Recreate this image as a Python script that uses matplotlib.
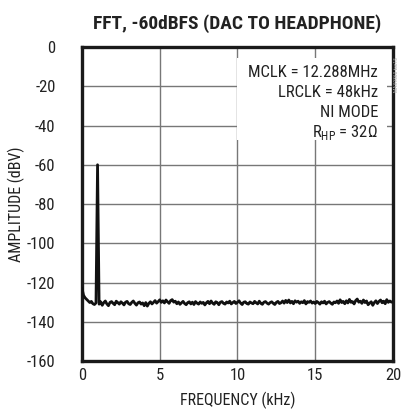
import numpy as np
import matplotlib.pyplot as plt
from matplotlib.patches import Rectangle

# FFT of a -60dBFS 1kHz tone, DAC to headphone output
freq_step_khz = 0.1
noise_dbv = [
    -123.0, -126.5, -127.8, -128.6, -129.4, -130.2, -129.6, -130.8, -131.2, -130.4,
    -60.0,
    -131.0, -129.8, -131.6, -130.2, -129.4, -130.9, -131.8, -130.1, -129.7,
    -130.6, -131.3, -129.5, -130.2, -131.0, -129.8, -130.5, -131.4, -130.0, -129.6,
    -130.8, -131.2, -130.1, -129.4, -130.6, -131.5, -130.3, -129.9, -131.0, -130.4,
    -131.8, -130.2, -132.0, -130.6, -129.8, -130.9, -130.1, -129.2, -130.5, -129.7,
    -128.8, -130.1, -129.3, -130.4, -128.9, -129.8, -130.6, -129.2, -128.7, -130.0,
    -129.5, -130.8, -129.9, -131.1, -130.3, -129.6, -130.7, -131.3, -130.2, -129.8,
    -130.9, -130.0, -131.2, -129.7, -130.5, -131.0, -129.9, -130.6, -130.1, -131.4,
    -130.3, -129.6, -130.8, -129.4, -130.5, -131.1, -129.8, -130.2, -131.3, -130.0,
    -129.7, -130.6, -131.0, -129.9, -130.4, -129.5, -130.9, -130.2, -129.6, -130.7,
    -130.1, -129.3, -130.5, -131.2, -130.0, -129.8, -130.7, -131.0, -129.9, -130.4,
    -130.8, -129.6, -130.3, -130.9, -129.5, -130.6, -131.1, -130.0, -129.7, -130.5,
    -131.0, -130.2, -129.8, -130.6, -131.2, -130.1, -129.6, -130.7, -130.3, -129.4,
    -130.5, -129.1, -130.2, -128.9, -130.4, -129.6, -130.8, -129.3, -130.0, -129.5,
    -130.6, -129.8, -130.3, -129.2, -130.9, -129.7, -130.1, -129.4, -130.5, -129.9,
    -130.7, -129.6, -130.2, -131.0, -129.8, -130.4, -129.5, -130.9, -130.1, -129.7,
    -130.5, -131.1, -129.9, -130.3, -129.4, -130.6, -128.8, -130.2, -129.6, -130.8,
    -129.3, -130.4, -128.6, -130.1, -129.7, -130.9, -129.2, -128.4, -130.0, -129.5,
    -130.6, -128.9, -130.2, -129.4, -131.3, -130.5, -129.8, -131.6, -130.2, -129.3,
    -130.7, -129.6, -128.9, -130.3, -129.5, -130.8, -128.7, -130.1, -129.4, -130.0,
    -129.6,
]
freq_khz = np.arange(len(noise_dbv)) * freq_step_khz

x_ticks = [0, 5, 10, 15, 20]
y_ticks = [0, -20, -40, -60, -80, -100, -120, -140, -160]
notes = ["MCLK = 12.288MHz", "LRCLK = 48kHz", "NI MODE", r"R$_{\mathregular{HP}}$ = 32Ω"]

NARROW = ["Roboto Condensed", "Archivo Narrow", "Barlow Condensed", "DejaVu Sans"]
plt.rcParams["font.family"] = NARROW
plt.rcParams["mathtext.fontset"] = "custom"
plt.rcParams["mathtext.rm"] = "Roboto Condensed"
plt.rcParams["axes.unicode_minus"] = False

fig = plt.figure(figsize=(4.01, 4.15), dpi=100)
ax = fig.add_axes([0.2045, 0.130, 0.7755, 0.7567])

ax.plot(freq_khz, noise_dbv, color="#111111", lw=2.0, zorder=3)

ax.set_xlim(0, 20)
ax.set_ylim(-160, 0)
ax.set_xticks(x_ticks)
ax.set_yticks(y_ticks)
ax.set_xticklabels([str(v) for v in x_ticks])
ax.set_yticklabels([str(v) for v in y_ticks])
ax.tick_params(length=0, labelsize=12, colors="#222222")
ax.tick_params(axis="y", pad=19)
ax.tick_params(axis="x", pad=5)
ax.grid(True, color="#777777", lw=1.0, zorder=0)
ax.set_axisbelow(True)
for sp in ax.spines.values():
    sp.set_linewidth(2.4)
    sp.set_color("#1a1a1a")

# white patch behind the notes hides the grid there
ax.add_patch(Rectangle((10.0, -47.5), 9.6, 42.0, facecolor="white", edgecolor="none", zorder=1))
for i, txt in enumerate(notes):
    ax.text(19.05, -13.0 - 10.2 * i, txt, ha="right", va="center", fontsize=12,
            color="#222222", zorder=4)

ax.set_title("FFT, -60dBFS (DAC TO HEADPHONE)", fontsize=14, fontweight="bold",
             color="#222222", pad=13)
ax.set_xlabel("FREQUENCY (kHz)", fontsize=11.5, color="#222222", labelpad=6)
ax.set_ylabel("AMPLITUDE (dBV)", fontsize=11.5, color="#222222")
ax.yaxis.set_label_coords(-0.183, 0.5)

fig.text(0.988, 0.82, "MAX9860 toc15", rotation=90, fontsize=4, color="#aaaaaa",
         ha="center", va="center")

fig.savefig("out.png", dpi=100)
